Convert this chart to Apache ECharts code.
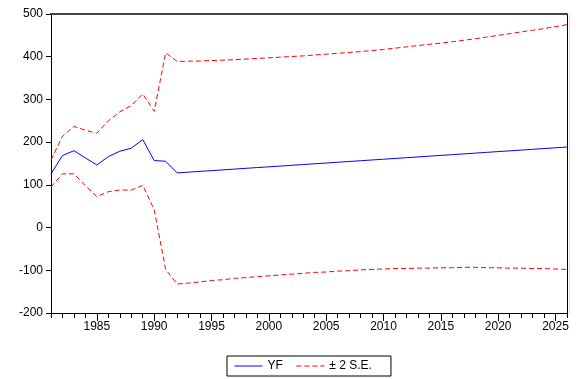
<!DOCTYPE html>
<html>
<head>
<meta charset="utf-8">
<script src="https://cdn.jsdelivr.net/npm/echarts@6/dist/echarts.min.js"></script>
<style>html,body{margin:0;padding:0;background:#fff}#c{width:578px;height:379px}</style>
</head>
<body>
<div id="c"></div>
<script>
const years = [1981,1982,1983,1984,1985,1986,1987,1988,1989,1990,1991,1992,1993,1994,1995,1996,1997,1998,1999,2000,2001,2002,2003,2004,2005,2006,2007,2008,2009,2010,2011,2012,2013,2014,2015,2016,2017,2018,2019,2020,2021,2022,2023,2024,2025,2026];
const yf = [125.7,168.6,180,163,146.7,166,178.7,185.8,206,156.9,155.3,128,129.8,131.6,133.3,135.1,136.9,138.7,140.5,142.2,144,145.8,147.6,149.4,151.1,152.9,154.7,156.5,158.3,160,161.8,163.6,165.4,167.2,169,170.7,172.5,174.3,176.1,177.9,179.6,181.4,183.2,185,186.8,188.6];
const upper = [158,213.8,236.5,228,220.8,250,271,285.6,313,272,409,389,389.5,390,391,392,393,394.5,396,397.5,399,400.5,402,404,406,408,410,412,414.5,417,420,423,426,429,432,435,438.5,442,446,450,454,458,462,466,470.5,475];
const lower = [95,125.7,125.7,98,72.6,84,88,87.6,99,42,-98.3,-132,-130,-127,-124,-122,-119,-117,-115,-113,-111,-109,-107,-105,-104,-102,-101,-99,-98,-97,-96,-96,-95,-95,-94,-94,-93,-93,-94,-94,-95,-95,-96,-96,-97,-98];
const majorYears = [1985,1990,1995,2000,2005,2010,2015,2020,2025];
const yTicks = [-200,-100,0,100,200,300,400,500];

const pair = arr => years.map((y,i)=>[y,arr[i]]);
const font = 'Liberation Sans, Arial, sans-serif';
const chart = echarts.init(document.getElementById('c'), null, {renderer:'canvas'});
chart.setOption({
  animation:false,
  textStyle:{fontFamily:font},
  grid:{left:51,right:11,top:14,bottom:66,show:false},
  xAxis:[
    {type:'value',min:1981,max:2026,interval:1,position:'bottom',
     axisLine:{show:true,onZero:false,lineStyle:{color:'#000',width:1}},
     axisTick:{show:true,length:5,lineStyle:{color:'#000'}},
     axisLabel:{customValues:majorYears,formatter:v=>String(v),color:'#000',fontSize:12,margin:8,fontFamily:font},
     splitLine:{show:false}},
    {type:'value',min:1981,max:2026,interval:1,position:'bottom',
     axisLine:{show:false,onZero:false},
     axisTick:{show:true,length:8,customValues:majorYears,lineStyle:{color:'#000'}},
     axisLabel:{show:false},splitLine:{show:false}},
    {type:'value',min:1981,max:2026,interval:1,position:'top',
     axisLine:{show:true,onZero:false,lineStyle:{color:'#444',width:2}},
     axisTick:{show:false},axisLabel:{show:false},splitLine:{show:false}}
  ],
  yAxis:[
    {type:'value',min:-200,max:500,interval:100,position:'left',
     axisLine:{show:true,onZero:false,lineStyle:{color:'#000',width:1}},
     axisTick:{show:true,length:5,lineStyle:{color:'#000'}},
     axisLabel:{formatter:v=>String(v),color:'#000',fontSize:12,margin:8,fontFamily:font},
     splitLine:{show:false}},
    {type:'value',min:-200,max:500,interval:100,position:'right',
     axisLine:{show:true,onZero:false,lineStyle:{color:'#000',width:1,shadowColor:'rgba(0,0,0,0.15)',shadowOffsetX:2,shadowBlur:0}},
     axisTick:{show:false},axisLabel:{show:false},splitLine:{show:false}}
  ],
  legend:{
    data:['YF','± 2 S.E.'],
    left:227,top:356,
    padding:[4,19,4,7],
    itemGap:13,itemWidth:28,itemHeight:10,
    borderColor:'#000',borderWidth:1,borderRadius:0,
    itemStyle:{opacity:0},
    lineStyle:{width:1},
    textStyle:{color:'#000',fontSize:12,fontFamily:font},
    selectedMode:false
  },
  series:[
    {name:'YF',type:'line',data:pair(yf),symbol:'none',xAxisIndex:0,yAxisIndex:0,
     lineStyle:{color:'#0000ff',width:1},itemStyle:{color:'#0000ff'}},
    {name:'± 2 S.E.',type:'line',data:pair(upper),symbol:'none',xAxisIndex:0,yAxisIndex:0,
     lineStyle:{color:'#ff0000',width:1,type:[5,3]},itemStyle:{color:'#ff0000'}},
    {name:'± 2 S.E.',type:'line',data:pair(lower),symbol:'none',xAxisIndex:0,yAxisIndex:0,
     lineStyle:{color:'#ff0000',width:1,type:[5,3]},itemStyle:{color:'#ff0000'}}
  ]
});
</script>
</body>
</html>
